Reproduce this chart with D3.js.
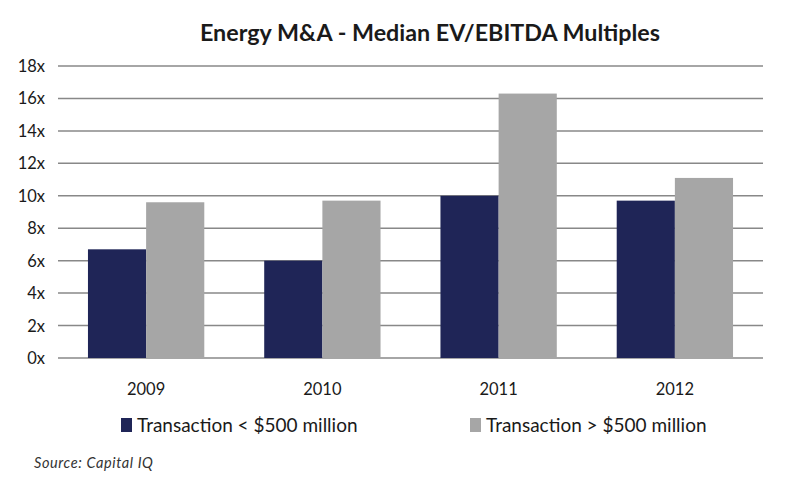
<!DOCTYPE html>
<html>
<head>
<meta charset="utf-8">
<script src="https://d3js.org/d3.v7.min.js"></script>
<style>
body { margin: 0; background: #fff; }
text { font-family: Lato, "Open Sans", sans-serif; fill: #1a1a1a; }
</style>
</head>
<body>
<svg id="chart" width="800" height="480"></svg>
<script>
// data
const years = ["2009", "2010", "2011", "2012"];
const seriesNames = ["Transaction < $500 million", "Transaction > $500 million"];
const small = [6.7, 6.0, 10.0, 9.7];
const large = [9.6, 9.7, 16.3, 11.1];
const yTicks = [0, 2, 4, 6, 8, 10, 12, 14, 16, 18];
const colors = ["#1f2557", "#a6a6a6"];

const svg = d3.select("#chart");
const plotLeft = 58, plotRight = 763, plotTop = 66, plotBottom = 358;

let x = d3.scaleBand().domain(years).range([plotLeft, plotRight]).paddingInner(0.34).paddingOuter(0.17);
let xs = d3.scaleBand().domain([0, 1]).range([0, x.bandwidth()]);
let y = d3.scaleLinear().domain([0, 18]).range([plotBottom, plotTop]);

svg.append("text")
   .attr("x", 430).attr("y", 41)
   .attr("text-anchor", "middle")
   .attr("font-size", 23.3).attr("font-weight", "bold")
   .text("Energy M&A - Median EV/EBITDA Multiples");

// grid
svg.append("g").selectAll("line")
   .data(yTicks).join("line")
   .attr("x1", plotLeft).attr("x2", plotRight)
   .attr("y1", d => y(d)).attr("y2", d => y(d))
   .attr("stroke", "#888").attr("stroke-width", 1.5);

svg.append("g").selectAll("text")
   .data(yTicks).join("text")
   .attr("x", 45).attr("y", d => y(d) + 6)
   .attr("text-anchor", "end")
   .attr("font-size", 16.5)
   .text(d => d + "x");

let groups = svg.append("g").selectAll("g")
   .data(years.map((yr, i) => ({ yr: yr, vals: [small[i], large[i]] })))
   .join("g")
   .attr("transform", d => "translate(" + x(d.yr) + ",0)");

groups.selectAll("rect")
   .data(d => d.vals)
   .join("rect")
   .attr("x", (d, i) => xs(i))
   .attr("width", xs.bandwidth())
   .attr("y", d => y(d))
   .attr("height", d => plotBottom - y(d))
   .attr("fill", (d, i) => colors[i]);

svg.append("g").selectAll("text")
   .data(years).join("text")
   .attr("x", d => x(d) + x.bandwidth() / 2)
   .attr("y", 395)
   .attr("text-anchor", "middle")
   .attr("font-size", 16.5)
   .text(d => d);

// legend
const legX = [121, 470];
seriesNames.forEach((name, i) => {
  svg.append("rect").attr("x", legX[i]).attr("y", 418).attr("width", 11).attr("height", 14).attr("fill", colors[i]);
  svg.append("text").attr("x", legX[i] + 16).attr("y", 432).attr("font-size", 19).text(name);
});

svg.append("text")
   .attr("x", 34).attr("y", 468)
   .attr("font-size", 14.5).attr("font-style", "italic")
   .attr("letter-spacing", 0.6)
   .style("fill", "#333")
   .text("Source:  Capital IQ");
</script>
</body>
</html>
